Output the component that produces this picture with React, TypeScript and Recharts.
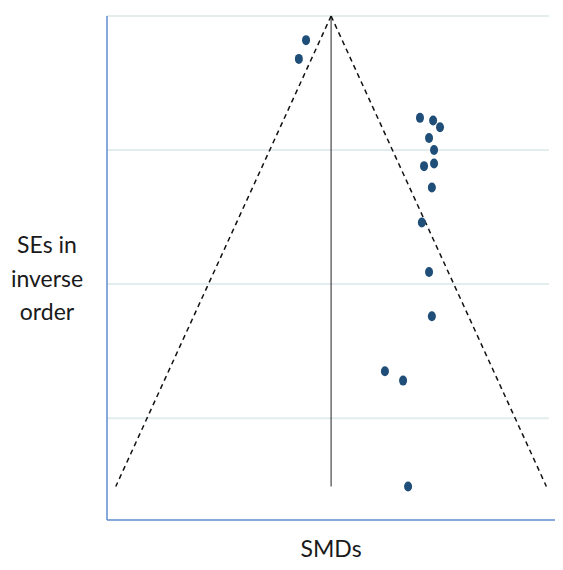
import React from "react";
import { ComposedChart, Scatter, XAxis, YAxis, ReferenceLine } from "recharts";

// Study-level data
const smds = [0.636, 0.613, 1.0, 1.042, 1.064, 1.029, 1.045, 1.013, 1.045, 1.038, 1.006, 1.029, 1.038, 0.888, 0.946, 0.962];
const ses = [0.018, 0.032, 0.076, 0.078, 0.083, 0.091, 0.1, 0.112, 0.11, 0.128, 0.154, 0.191, 0.224, 0.265, 0.272, 0.351];

const pooledSMD = 0.716;
const funnelMaxSE = 0.351;
const zCrit = 1.96;
const gridSEs = [0, 0.1, 0.2, 0.3];
const xDomain: [number, number] = [0, 1.457];
const yDomain: [number, number] = [0, 0.376];
const gridEndX = 1.412;

const yLabelLines = ["SEs in", "inverse", "order"];
const xLabel = "SMDs";

const points = smds.map((x, i) => ({ x, y: ses[i] }));

const W = 555;
const H = 554;
const FONT = "Lato, 'Open Sans', sans-serif";
const AXIS_BLUE = "#5f8bd0";

const Dot = (props: any) => {
  const { cx, cy } = props;
  if (cx == null || cy == null) return null;
  return <ellipse cx={cx} cy={cy} rx={4} ry={5} fill="#1f4e79" />;
};

const XLabel = (props: any) => {
  const vb = props.viewBox || {};
  const cx = vb.x + ((pooledSMD - xDomain[0]) / (xDomain[1] - xDomain[0])) * vb.width;
  return (
    <text x={cx} y={vb.y + 37} textAnchor="middle" fontFamily={FONT} fontSize={23} fill="#1a1a1a">
      {xLabel}
    </text>
  );
};

const YLabel = () => {
  return (
    <g>
      {yLabelLines.map((t, i) => (
        <text key={t} x={39} y={245 + i * 33.5} textAnchor="middle" fontFamily={FONT} fontSize={23} fill="#1a1a1a">
          {t}
        </text>
      ))}
    </g>
  );
};

export default function App() {
  const leftEdge = pooledSMD - zCrit * funnelMaxSE;
  const rightEdge = pooledSMD + zCrit * funnelMaxSE;
  return (
    <ComposedChart width={W} height={H} margin={{ top: 8, right: 0, left: 98, bottom: 41 }}>
      <XAxis
        type="number"
        dataKey="x"
        domain={xDomain}
        allowDataOverflow
        tick={false}
        tickLine={false}
        height={1}
        axisLine={{ stroke: AXIS_BLUE, strokeWidth: 1.5 }}
        label={<XLabel />}
      />
      <YAxis
        type="number"
        dataKey="y"
        domain={yDomain}
        reversed
        allowDataOverflow
        tick={false}
        tickLine={false}
        width={1}
        axisLine={{ stroke: AXIS_BLUE, strokeWidth: 1.5 }}
        label={<YLabel />}
      />
      {gridSEs.map((g) => (
        <ReferenceLine
          key={g}
          segment={[
            { x: xDomain[0], y: g },
            { x: gridEndX, y: g },
          ]}
          stroke="#e3eded"
          strokeWidth={2}
        />
      ))}
      <ReferenceLine
        segment={[
          { x: pooledSMD, y: 0 },
          { x: pooledSMD, y: funnelMaxSE },
        ]}
        stroke="#222"
        strokeWidth={1}
      />
      <ReferenceLine
        segment={[
          { x: pooledSMD, y: 0 },
          { x: leftEdge, y: funnelMaxSE },
        ]}
        stroke="#111"
        strokeWidth={1.5}
        strokeDasharray="5 4"
      />
      <ReferenceLine
        segment={[
          { x: pooledSMD, y: 0 },
          { x: rightEdge, y: funnelMaxSE },
        ]}
        stroke="#111"
        strokeWidth={1.5}
        strokeDasharray="5 4"
      />
      <Scatter data={points} dataKey="y" shape={<Dot />} isAnimationActive={false} />
    </ComposedChart>
  );
}
